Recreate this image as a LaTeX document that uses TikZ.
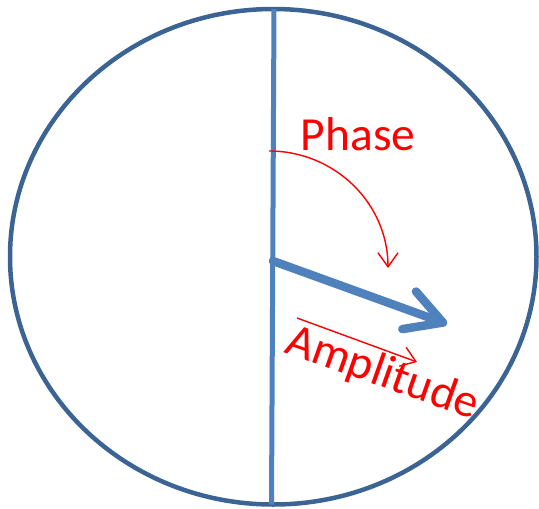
\documentclass[tikz,border=0pt]{standalone}
\usepackage{fontspec}
\setmainfont{Carlito}
\usetikzlibrary{arrows.meta,shapes.geometric}
\definecolor{rimblue}{HTML}{3B6495}
\definecolor{axisblue}{HTML}{4F81BD}
\definecolor{labred}{HTML}{FF0000}
\tikzset{
  rim/.style={draw=rimblue, line width=4.5pt},
  axisline/.style={draw=axisblue, line width=5pt},
  vec/.style={draw=axisblue, line width=8.5pt, line cap=round, line join=round,
    -{Straight Barb[length=36pt, width=40pt, round]}},
  thinarrow/.style={draw=labred, line width=1.4pt,
    -{Straight Barb[length=14pt, width=20pt]}},
  lab/.style={text=labred, font=\fontsize{47.5}{52}\selectfont, inner sep=0pt}
}
\begin{document}
\begin{tikzpicture}[x=1pt, y=-1pt]
\useasboundingbox (0,0) rectangle (539,509);
\node[rim, ellipse, minimum width=526.5pt, minimum height=495.5pt, inner sep=0pt] (circ) at (273.25,256.75) {};
\coordinate (top) at (274,9);
\coordinate (bot) at (271.5,504.5);
\draw[axisline] (top) -- (bot);
\coordinate (O) at (273,261);
\coordinate (T) at (447,324);
\draw[vec] (O) -- (T);
\coordinate (P0) at (269,151);
\coordinate (P1) at (388,268);
\draw[thinarrow] (P0) .. controls (334.7,151) and (388,203.4) .. (P1);
\coordinate (A0) at (297,318);
\coordinate (A1) at (417,362);
\draw[thinarrow] (A0) -- (A1);
\node[lab, anchor=base] (phase) at (358,150) {Phase};
\node[lab, anchor=base west, rotate=-19.5] (amp) at (283,352) {Amplitude};
\end{tikzpicture}
\end{document}
